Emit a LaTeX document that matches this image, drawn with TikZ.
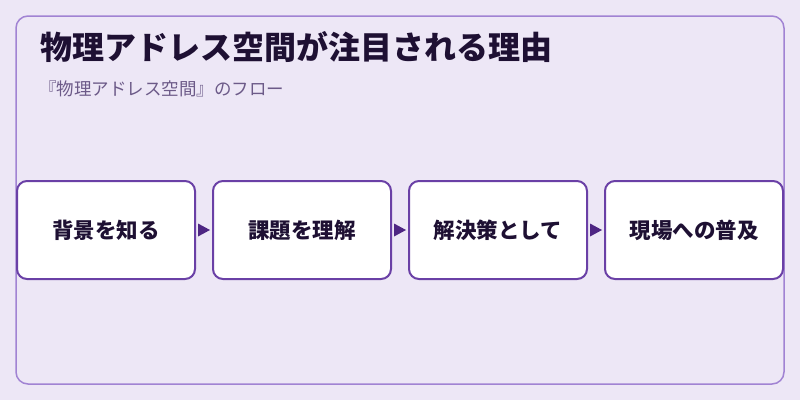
\documentclass[tikz,border=0pt]{standalone}
\usepackage{fontspec}
\setmainfont{Noto Sans CJK JP}
\definecolor{bgc}{HTML}{EDE7F6}
\definecolor{framec}{HTML}{A183D3}
\definecolor{boxc}{HTML}{6A40A6}
\definecolor{arrc}{HTML}{4E2683}
\definecolor{titlec}{HTML}{1E1033}
\definecolor{subc}{HTML}{6C5A88}
\tikzset{
  stepbox/.style={draw=boxc, line width=2pt, fill=white, rounded corners=10pt,
    minimum width=178pt, minimum height=98pt, inner sep=0pt,
    font=\fontsize{21.5}{24}\selectfont\bfseries, text=titlec},
  flowarrow/.style={draw=none, fill=arrc}
}
\begin{document}
\begin{tikzpicture}[x=1pt,y=-1pt]
\useasboundingbox (0,0) rectangle (800,400);
\fill[bgc] (0,0) rectangle (800,400);
\draw[framec, line width=1.5pt, rounded corners=12pt] (16,16) rectangle (784,384);
\node[anchor=west, inner sep=0pt, text=titlec, font=\fontsize{32}{36}\selectfont\bfseries] (title) at (40,47) {物理アドレス空間が注目される理由};
\node[anchor=west, inner sep=0pt, text=subc, font=\fontsize{17.5}{20}\selectfont] (sub) at (39,89) {『物理アドレス空間』のフロー};
\node[stepbox] (b1) at (106,230) {背景を知る};
\node[stepbox] (b2) at (302,230) {課題を理解};
\node[stepbox] (b3) at (498,230) {解決策として};
\node[stepbox] (b4) at (694,230) {現場への普及};
\foreach \a/\b in {b1/b2,b2/b3,b3/b4}{
  \path (\a.east) -- (\b.west) coordinate[pos=0.5] (m);
  \fill[arrc] ([xshift=-6pt,yshift=-6.5pt]m) -- ([xshift=6pt]m) -- ([xshift=-6pt,yshift=6.5pt]m) -- cycle;
}
\end{tikzpicture}
\end{document}
